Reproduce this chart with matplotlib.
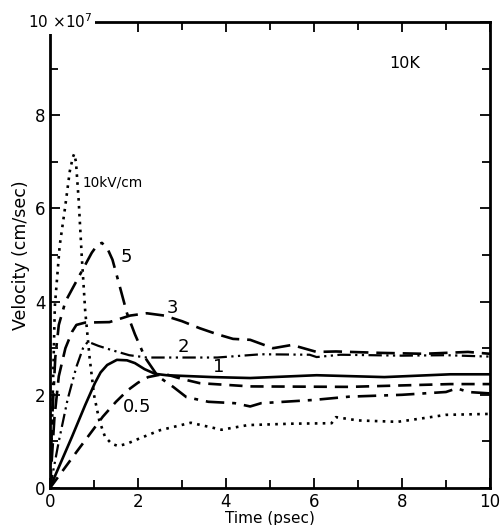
import numpy as np
import matplotlib
matplotlib.use("Agg")
import matplotlib.pyplot as plt
from matplotlib.ticker import MultipleLocator, FuncFormatter

# field 10 kV/cm (dotted)
t10 = [0, 0.05, 0.11, 0.22, 0.34, 0.45, 0.52, 0.55, 0.59, 0.65, 0.72, 0.8, 0.9, 1.0, 1.12,
       1.25, 1.4, 1.55, 1.75, 2.0, 2.5, 3.2, 3.9, 4.5, 5.5, 6.4, 6.5, 7.0, 7.9, 8.5, 9.0, 10]
v10 = [0, 1.5, 3.9, 5.2, 6.0, 6.8, 7.1, 7.17, 7.0, 6.2, 5.0, 3.8, 2.8, 2.0, 1.45,
       1.1, 0.95, 0.9, 0.95, 1.05, 1.24, 1.4, 1.25, 1.35, 1.38, 1.39, 1.52, 1.45, 1.42, 1.5,
       1.57, 1.59]

# 5 kV/cm (dash-dot)
t5 = [0, 0.05, 0.12, 0.2, 0.35, 0.55, 0.75, 0.95, 1.08, 1.18, 1.3, 1.42, 1.55, 1.75, 1.93,
      2.16, 2.45, 2.8, 3.1, 3.6, 4.2, 4.55, 4.8, 6.0, 6.8, 8.0, 9.0, 9.25, 9.5, 10]
v5 = [0, 1.5, 2.8, 3.5, 4.0, 4.35, 4.7, 5.05, 5.22, 5.26, 5.15, 4.9, 4.45, 3.75, 3.3,
      2.8, 2.4, 2.17, 1.95, 1.85, 1.82, 1.75, 1.82, 1.89, 1.96, 2.0, 2.06, 2.14, 2.06, 2.03]

# 3 kV/cm (long dashes)
t3 = [0, 0.1, 0.2, 0.35, 0.5, 0.6, 0.8, 1.35, 1.82, 2.2, 2.6, 3.0, 3.4, 3.8, 4.16, 4.55,
      5.07, 5.5, 6.06, 6.5, 7.5, 8.5, 9.5, 10]
v3 = [0, 1.5, 2.4, 3.0, 3.35, 3.5, 3.55, 3.56, 3.7, 3.75, 3.7, 3.58, 3.43, 3.3, 3.2, 3.18,
      3.0, 3.07, 2.92, 2.93, 2.9, 2.88, 2.92, 2.88]

# 2 kV/cm (dash-dot-dot)
t2 = [0, 0.2, 0.4, 0.6, 0.75, 0.86, 1.1, 1.4, 1.8, 2.2, 3.0, 3.8, 4.8, 5.9, 6.06, 6.6,
      8, 9, 10]
v2 = [0, 1.0, 1.9, 2.6, 3.0, 3.14, 3.05, 2.96, 2.85, 2.8, 2.8, 2.8, 2.87, 2.86, 2.81, 2.86,
      2.84, 2.85, 2.82]

# 1 kV/cm (solid)
t1 = [0, 0.11, 0.5, 0.8, 1.02, 1.15, 1.3, 1.52, 1.75, 1.93, 2.15, 2.39, 2.65, 3.7, 4.55,
      6.06, 7.6, 9.1, 10]
v1 = [0, 0.25, 1.1, 1.78, 2.25, 2.48, 2.64, 2.75, 2.74, 2.68, 2.55, 2.45, 2.42, 2.38, 2.36,
      2.42, 2.38, 2.44, 2.44]

# 0.5 kV/cm (dashed)
t05 = [0, 0.6, 1.2, 1.5, 1.77, 2.0, 2.23, 2.6, 3.0, 3.4, 4.55, 6.8, 9.1, 10]
v05 = [0, 0.77, 1.53, 1.85, 2.1, 2.26, 2.38, 2.45, 2.34, 2.25, 2.18, 2.17, 2.23, 2.23]

fig = plt.figure(figsize=(5.02, 5.25), dpi=100)
ax = fig.add_axes([0.0996, 0.0705, 0.8764, 0.8875])

lw = 1.9
ax.plot(t10, v10, color="k", lw=lw, linestyle=(0, (1, 2)))
ax.plot(t5, v5, color="k", lw=lw, linestyle=(0, (7, 3, 1.5, 3)))
ax.plot(t3, v3, color="k", lw=lw, linestyle=(0, (7, 3)))
ax.plot(t2, v2, color="k", lw=lw - 0.3, linestyle=(0, (6, 2, 1, 2, 1, 2)))
ax.plot(t1, v1, color="k", lw=lw)
ax.plot(t05, v05, color="k", lw=lw, linestyle=(0, (5, 3)))

ax.set_xlim(0, 10)
ax.set_ylim(0, 10)
ax.xaxis.set_major_locator(MultipleLocator(2))
ax.xaxis.set_minor_locator(MultipleLocator(1))
ax.yaxis.set_major_locator(MultipleLocator(2))
ax.yaxis.set_minor_locator(MultipleLocator(1))
ax.yaxis.set_major_formatter(FuncFormatter(lambda v, p: "" if v >= 10 else "%d" % v))
ax.tick_params(which="both", direction="in", top=True, right=True, width=1.3,
               labelsize=12)
ax.tick_params(axis="x", pad=3.5)
ax.tick_params(axis="y", pad=3)
ax.tick_params(which="major", length=7)
ax.tick_params(which="minor", length=6)
for s in ax.spines.values():
    s.set_linewidth(2)

ax.text(-0.5, 10, r"10 $\times$10$^7$", ha="left", va="center", fontsize=11,
        clip_on=False, zorder=5,
        bbox=dict(facecolor="white", edgecolor="none", pad=1.5))
ax.set_xlabel("Time (psec)", fontsize=11, labelpad=0)
ax.set_ylabel("Velocity (cm/sec)", fontsize=12.5, labelpad=4)

ax.text(0.75, 6.55, "10kV/cm", fontsize=9.8, va="center")
ax.text(1.6, 4.96, "5", fontsize=13, va="center")
ax.text(2.65, 3.86, "3", fontsize=13, va="center")
ax.text(2.9, 3.03, "2", fontsize=13, va="center")
ax.text(3.7, 2.6, "1", fontsize=13, va="center")
ax.text(1.98, 1.74, "0.5", fontsize=13, ha="center", va="center")
ax.text(8.07, 9.12, "10K", fontsize=11.5, ha="center", va="center")

fig.savefig("out.png", dpi=100)
